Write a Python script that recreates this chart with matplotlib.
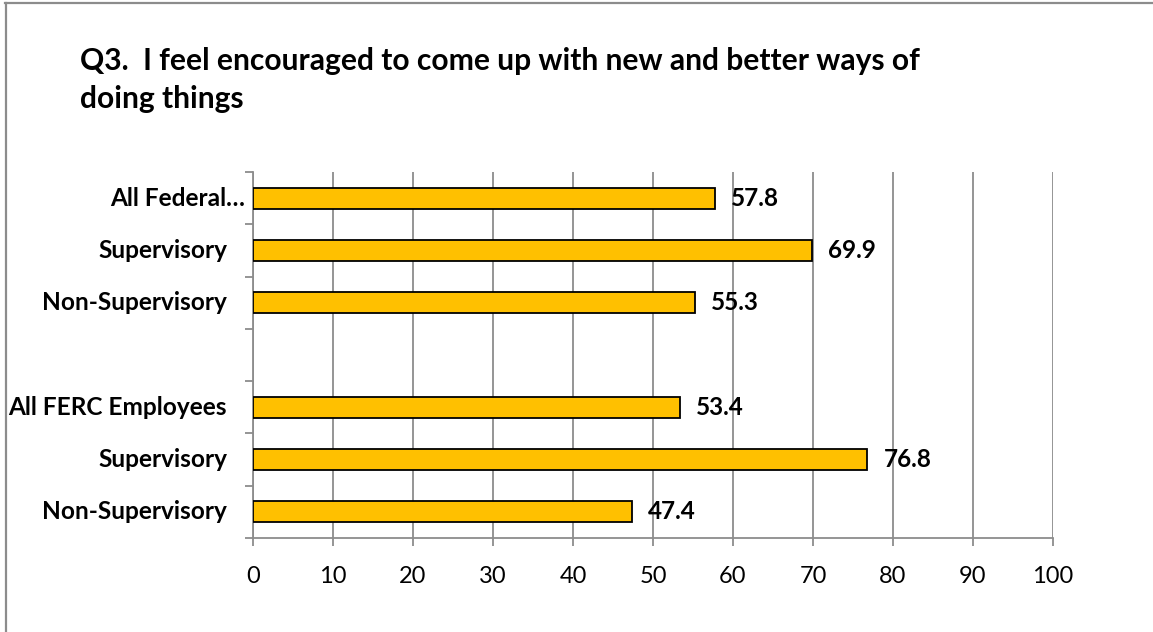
import matplotlib.pyplot as plt
from matplotlib.lines import Line2D
from matplotlib.transforms import blended_transform_factory

# Categories from top to bottom; the blank entry is the gap between the two groups
categorias = ["All Federal…", "Supervisory", "Non-Supervisory", "",
              "All FERC Employees", "Supervisory", "Non-Supervisory"]
valores = [57.8, 69.9, 55.3, None, 53.4, 76.8, 47.4]
ticks_x = [0, 10, 20, 30, 40, 50, 60, 70, 80, 90, 100]
titulo = ["Q3.  I feel encouraged to come up with new and better ways of",
          "doing things"]

plt.rcParams['font.family'] = ['Lato', 'DejaVu Sans']

W, H = 1153, 632
fig = plt.figure(figsize=(W / 100, H / 100), dpi=100)
fig.patch.set_facecolor('white')

# Gray frame around the chart area (top and left edges visible)
gris = '#8c8c8c'
fig.add_artist(Line2D([5 / W, 1], [1 - 3 / H, 1 - 3 / H], color=gris, lw=1.6))
fig.add_artist(Line2D([5.5 / W, 5.5 / W], [0, 1 - 3 / H], color=gris, lw=1.6))

ax = fig.add_axes([253 / W, 1 - 538 / H, 800 / W, 366 / H])

n = len(categorias)
ys = list(range(n))
for y, v in zip(ys, valores):
    if v is None:
        continue
    ax.barh(y, v, height=0.4, color='#FFC000', edgecolor='black', linewidth=1.3, zorder=3)
    ax.text(v + 2.0, y, f"{v:.1f}", va='center', ha='left', fontsize=17.5,
            fontweight='bold', color='black', zorder=4)

ax.set_xlim(0, 100)
ax.set_ylim(n - 0.5, -0.5)

# Vertical gridlines
ax.set_xticks(ticks_x)
ax.set_xticklabels([str(t) for t in ticks_x], fontsize=17)
ax.xaxis.grid(True, color=gris, linewidth=1.3, zorder=0)
ax.tick_params(axis='x', direction='out', length=6, width=1.3, color=gris, pad=14)

# Tick marks between categories, labels centered on each bar
ax.set_yticks([i - 0.5 for i in range(n + 1)], minor=True)
ax.set_yticks([])
ax.tick_params(axis='y', which='minor', direction='out', length=6, width=1.3, color=gris)
trans = blended_transform_factory(ax.transAxes, ax.transData)
for y, etiqueta in zip(ys, categorias):
    if not etiqueta:
        continue
    dx = -8 if etiqueta.endswith("…") else -26
    ax.annotate(etiqueta, xy=(0, y), xycoords=trans, xytext=(dx, 0),
                textcoords='offset pixels', ha='right', va='center',
                fontsize=17.6, fontweight='bold')

for lado in ['top', 'right']:
    ax.spines[lado].set_visible(False)
for lado in ['left', 'bottom']:
    ax.spines[lado].set_color(gris)
    ax.spines[lado].set_linewidth(1.3)

# Two-line title, each line on its own baseline
for linea, base in zip(titulo, [70, 108]):
    fig.text(80 / W, 1 - base / H, linea, ha='left', va='baseline',
             fontsize=21.6, fontweight='bold')

fig.savefig('out.png', dpi=100, facecolor='white')
